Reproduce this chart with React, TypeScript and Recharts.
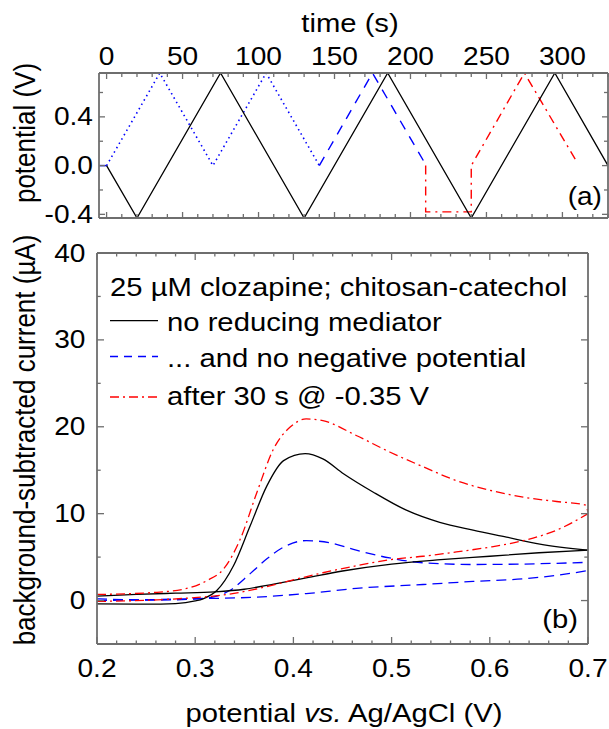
import React from "react";
import { LineChart, Line, XAxis, YAxis } from "recharts";

// ---- panel (a): applied potential vs time ----
const timeTicks = [0, 10, 20, 30, 40, 50, 60, 70, 80, 90, 100, 110, 120, 130, 140, 150, 160, 170, 180, 190, 200, 210, 220, 230, 240, 250, 260, 270, 280, 290, 300, 310, 320, 330];
const timeLabels = [0, 50, 100, 150, 200, 250, 300];
const stepTicks = [-0.4, -0.2, 0, 0.2, 0.4, 0.6];
const stepLabels = [-0.4, 0, 0.4];

const blackTime = [0, 20, 75, 130, 185, 240, 295, 330];
const blackPot = [0, -0.43, 0.76, -0.43, 0.76, -0.43, 0.76, 0];
const holdTime = [-5, 0];
const holdPot = [0, 0];
const dottedTime = [0, 35, 70, 105, 140];
const dottedPot = [0, 0.76, 0, 0.76, 0];
const dashedTime = [140, 175, 209];
const dashedPot = [0, 0.76, 0.03];
const redTime = [210, 210, 240, 240, 275, 309];
const redPot = [0, -0.38, -0.38, 0, 0.76, 0.04];

// ---- panel (b): background-subtracted current vs potential ----
const potTicks = [0.2, 0.22, 0.24, 0.26, 0.28, 0.3, 0.32, 0.34, 0.36, 0.38, 0.4, 0.42, 0.44, 0.46, 0.48, 0.5, 0.52, 0.54, 0.56, 0.58, 0.6, 0.62, 0.64, 0.66, 0.68, 0.7];
const potLabels = [0.2, 0.3, 0.4, 0.5, 0.6, 0.7];
const currTicks = [-5, 0, 5, 10, 15, 20, 25, 30, 35, 40];
const currLabels = [0, 10, 20, 30, 40];

const noMedFwdE = [0.2, 0.25, 0.28, 0.3, 0.308, 0.322, 0.339, 0.356, 0.373, 0.39, 0.412, 0.43, 0.451, 0.481, 0.515, 0.549, 0.583, 0.617, 0.651, 0.7];
const noMedFwdI = [-0.38, -0.42, -0.35, -0.05, 0.2, 1.15, 4.0, 8.6, 13.2, 16.1, 16.9, 16.3, 14.6, 12.5, 10.4, 9.0, 8.1, 7.3, 6.5, 5.8];
const noMedRevE = [0.2, 0.24, 0.28, 0.32, 0.35, 0.38, 0.413, 0.45, 0.5, 0.55, 0.6, 0.65, 0.7];
const noMedRevI = [0.5, 0.7, 0.85, 1.0, 1.3, 1.9, 2.6, 3.4, 4.2, 4.7, 5.1, 5.5, 5.8];

const noNegFwdE = [0.2, 0.261, 0.312, 0.335, 0.356, 0.373, 0.39, 0.413, 0.437, 0.464, 0.498, 0.532, 0.583, 0.634, 0.7];
const noNegFwdI = [0.2, 0.05, 0.3, 1.15, 3.1, 4.8, 6.15, 6.9, 6.65, 5.8, 4.9, 4.35, 4.15, 4.2, 4.4];
const noNegRevE = [0.2, 0.295, 0.363, 0.413, 0.464, 0.532, 0.583, 0.634, 0.668, 0.7];
const noNegRevI = [0.0, 0.2, 0.4, 0.8, 1.4, 1.85, 2.2, 2.5, 2.9, 3.45];

const afterFwdE = [0.2, 0.261, 0.295, 0.312, 0.329, 0.346, 0.363, 0.38, 0.397, 0.413, 0.43, 0.464, 0.498, 0.532, 0.566, 0.6, 0.634, 0.668, 0.697, 0.7];
const afterFwdI = [0.7, 0.95, 1.5, 2.3, 3.65, 7.1, 12.5, 17.5, 20.0, 20.9, 20.7, 19.0, 17.1, 15.4, 13.8, 12.7, 11.9, 11.4, 11.0, 10.2];
const afterRevE = [0.2, 0.261, 0.295, 0.329, 0.363, 0.397, 0.43, 0.464, 0.498, 0.532, 0.566, 0.6, 0.634, 0.668, 0.7];
const afterRevI = [-0.1, 0.08, 0.3, 0.65, 1.35, 2.3, 3.2, 4.0, 4.7, 5.1, 5.6, 6.15, 6.9, 8.1, 10.0];

const pairs = (xs: number[], ys: number[], xk: string, yk: string) =>
  xs.map((x, i) => ({ [xk]: x, [yk]: ys[i] }));

const FONT = "'Liberation Sans', Arial, Helvetica, sans-serif";
const SX = 1.125; // the original figure is stretched horizontally
const FRAME = "#6e6e6e";
const BLUE = "#0000ff";
const RED = "#ff0000";

function Txt({ x, y, size = 26, anchor = "start", rotate = false, children }: any) {
  return (
    <text
      transform={`translate(${x} ${y}) scale(${SX} 1)${rotate ? " rotate(-90)" : ""}`}
      fontSize={size}
      fontFamily={FONT}
      textAnchor={anchor}
      fill="#000"
    >
      {children}
    </text>
  );
}

const isIn = (v: number, list: number[]) => list.some((l) => Math.abs(l - v) < 1e-6);

// ticks point into the frame, labels sit outside
function frameTick(side: string, labels: number[], fmt: (v: number) => string, gap: number, major = 6, minor = 4) {
  return (props: any) => {
    const { x, y, payload } = props;
    const v = payload.value;
    const big = isIn(v, labels);
    const len = big ? major : minor;
    const showLabel = big && gap !== 0;
    let line;
    let label = null;
    if (side === "top") {
      line = <line x1={x} y1={y} x2={x} y2={y + len} stroke={FRAME} strokeWidth={1.3} />;
      if (showLabel) label = <Txt x={x} y={y - gap} size={25} anchor="middle">{fmt(v)}</Txt>;
    } else if (side === "bottom") {
      line = <line x1={x} y1={y} x2={x} y2={y - len} stroke={FRAME} strokeWidth={1.3} />;
      if (showLabel) label = <Txt x={x} y={y + gap} size={25} anchor="middle">{fmt(v)}</Txt>;
    } else if (side === "left") {
      line = <line x1={x} y1={y} x2={x + len} y2={y} stroke={FRAME} strokeWidth={1.3} />;
      if (showLabel) label = <Txt x={x - gap} y={y + 8.5} size={25} anchor="end">{fmt(v)}</Txt>;
    } else {
      line = <line x1={x} y1={y} x2={x - len} y2={y} stroke={FRAME} strokeWidth={1.3} />;
    }
    return (
      <g>
        {line}
        {label}
      </g>
    );
  };
}

const axisLine = { stroke: FRAME, strokeWidth: 1.8 };
const timeFmt = (v: number) => String(v);
const potFmt = (v: number) => v.toFixed(1);

// axes get a 1px size (0 hides them), so margins are 1px smaller than the frame offsets
function TopPanel() {
  return (
    <LineChart width={609} height={230} margin={{ top: 72, right: 0, bottom: 11, left: 98 }}>
      <XAxis xAxisId="t" orientation="top" type="number" dataKey="t" domain={[-5, 330]} allowDataOverflow
        ticks={timeTicks} interval={0} height={1} tickSize={0} tickMargin={0} tickLine={false} axisLine={axisLine}
        tick={frameTick("top", timeLabels, timeFmt, 8.5)} />
      <XAxis xAxisId="b" orientation="bottom" type="number" dataKey="t" domain={[-5, 330]} allowDataOverflow
        ticks={timeTicks} interval={0} height={1} tickSize={0} tickMargin={0} tickLine={false} axisLine={axisLine}
        tick={frameTick("bottom", timeLabels, timeFmt, 0)} />
      <YAxis yAxisId="l" type="number" domain={[-0.43, 0.76]} allowDataOverflow ticks={stepTicks} interval={0}
        width={1} tickSize={0} tickMargin={0} tickLine={false} axisLine={axisLine}
        tick={frameTick("left", stepLabels, potFmt, 6)} />
      <YAxis yAxisId="r" orientation="right" type="number" domain={[-0.43, 0.76]} allowDataOverflow ticks={stepTicks}
        interval={0} width={1} tickSize={0} tickMargin={0} tickLine={false} axisLine={axisLine}
        tick={frameTick("right", stepLabels, potFmt, 0)} />
      <Line xAxisId="t" yAxisId="l" data={pairs(holdTime, holdPot, "t", "v")} dataKey="v" type="linear"
        stroke={BLUE} strokeWidth={1.5} dot={false} activeDot={false} isAnimationActive={false} />
      <Line xAxisId="t" yAxisId="l" data={pairs(dottedTime, dottedPot, "t", "v")} dataKey="v" type="linear"
        stroke={BLUE} strokeWidth={1.6} strokeDasharray="1.5 3.5" dot={false} activeDot={false} isAnimationActive={false} />
      <Line xAxisId="t" yAxisId="l" data={pairs(dashedTime, dashedPot, "t", "v")} dataKey="v" type="linear"
        stroke={BLUE} strokeWidth={1.4} strokeDasharray="10 8" dot={false} activeDot={false} isAnimationActive={false} />
      <Line xAxisId="t" yAxisId="l" data={pairs(redTime, redPot, "t", "v")} dataKey="v" type="linear"
        stroke={RED} strokeWidth={1.4} strokeDasharray="9 5 2 5" dot={false} activeDot={false} isAnimationActive={false} />
      <Line xAxisId="t" yAxisId="l" data={pairs(blackTime, blackPot, "t", "v")} dataKey="v" type="linear"
        stroke="#000" strokeWidth={1.3} dot={false} activeDot={false} isAnimationActive={false} />
    </LineChart>
  );
}

function BottomPanel() {
  const branch = (xs: number[], ys: number[], color: string, dash?: string) => (
    <Line xAxisId="b" yAxisId="l" data={pairs(xs, ys, "e", "i")} dataKey="i" type="monotone"
      stroke={color} strokeWidth={1.3} strokeDasharray={dash} dot={false} activeDot={false} isAnimationActive={false} />
  );
  return (
    <LineChart width={609} height={499} margin={{ top: 22, right: 20, bottom: 84, left: 96 }}>
      <XAxis xAxisId="b" orientation="bottom" type="number" dataKey="e" domain={[0.2, 0.7]} allowDataOverflow
        ticks={potTicks} interval={0} height={1} tickSize={0} tickMargin={0} tickLine={false} axisLine={axisLine}
        tick={frameTick("bottom", potLabels, potFmt, 32.5, 7, 3.5)} />
      <XAxis xAxisId="t" orientation="top" type="number" dataKey="e" domain={[0.2, 0.7]} allowDataOverflow
        ticks={potTicks} interval={0} height={1} tickSize={0} tickMargin={0} tickLine={false} axisLine={axisLine}
        tick={frameTick("top", potLabels, potFmt, 0, 7, 3.5)} />
      <YAxis yAxisId="l" type="number" domain={[-5, 40]} allowDataOverflow ticks={currTicks} interval={0}
        width={1} tickSize={0} tickMargin={0} tickLine={false} axisLine={axisLine}
        tick={frameTick("left", currLabels, timeFmt, 11.5, 7, 3.7)} />
      <YAxis yAxisId="r" orientation="right" type="number" domain={[-5, 40]} allowDataOverflow ticks={currTicks}
        interval={0} width={1} tickSize={0} tickMargin={0} tickLine={false} axisLine={axisLine}
        tick={frameTick("right", currLabels, timeFmt, 0, 7, 3.7)} />
      {branch(noNegRevE, noNegRevI, BLUE, "10 6")}
      {branch(noNegFwdE, noNegFwdI, BLUE, "10 6")}
      {branch(noMedRevE, noMedRevI, "#000")}
      {branch(noMedFwdE, noMedFwdI, "#000")}
      {branch(afterRevE, afterRevI, RED, "9 4 2 4")}
      {branch(afterFwdE, afterFwdI, RED, "9 4 2 4")}
    </LineChart>
  );
}

const legendRows = [
  { label: "no reducing mediator", color: "#000", dash: undefined, y: 331, ly: 320.7 },
  { label: "... and no negative potential", color: BLUE, dash: "8 6", y: 367, ly: 356.5 },
  { label: "after 30 s @ -0.35 V", color: RED, dash: "9 4 2 4", y: 405, ly: 397 },
];

export default function App() {
  return (
    <div style={{ position: "absolute", left: 0, top: 0, width: 609, height: 729, background: "#fff", overflow: "hidden" }}>
      <div style={{ position: "absolute", left: 0, top: 0 }}>
        <TopPanel />
      </div>
      <div style={{ position: "absolute", left: 0, top: 230 }}>
        <BottomPanel />
      </div>
      <svg width={609} height={729} style={{ position: "absolute", left: 0, top: 0, pointerEvents: "none" }}>
        <Txt x={350} y={32} anchor="middle">time (s)</Txt>
        <Txt x={35} y={133} anchor="middle" rotate>potential (V)</Txt>
        <Txt x={35} y={440} anchor="middle" rotate>background-subtracted current (µA)</Txt>
        <text transform={`translate(344 722) scale(${SX} 1)`} fontSize={26} fontFamily={FONT} textAnchor="middle">
          potential <tspan fontStyle="italic">vs.</tspan> Ag/AgCl (V)
        </text>
        <Txt x={602} y={205} size={25} anchor="end">(a)</Txt>
        <Txt x={578} y={628} size={26} anchor="end">(b)</Txt>
        <Txt x={110} y={296}>25 µM clozapine; chitosan-catechol</Txt>
        {legendRows.map((r) => (
          <g key={r.label}>
            <line x1={110} y1={r.ly} x2={158} y2={r.ly} stroke={r.color} strokeWidth={1.3} strokeDasharray={r.dash} />
            <Txt x={167} y={r.y}>{r.label}</Txt>
          </g>
        ))}
      </svg>
    </div>
  );
}
